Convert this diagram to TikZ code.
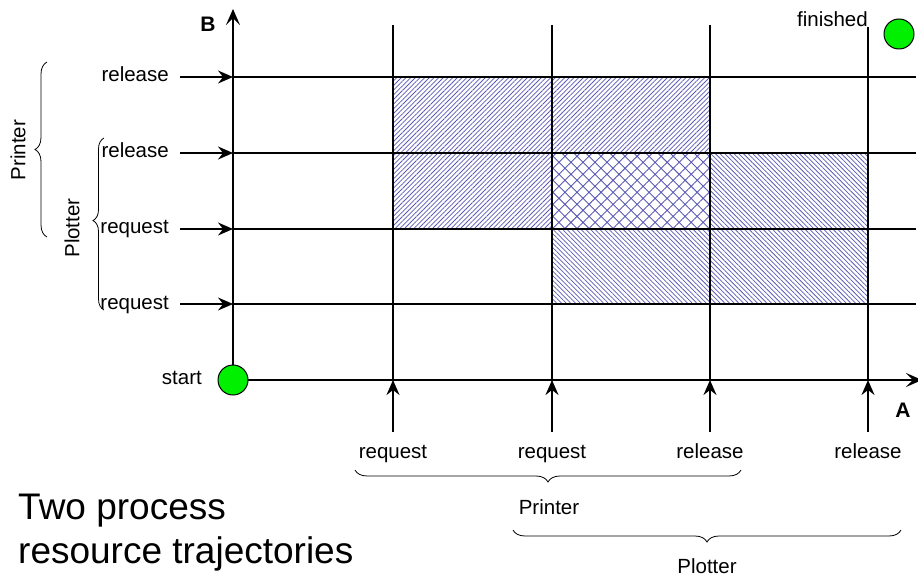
\documentclass[tikz,border=0pt]{standalone}
\usepackage{fontspec}
\setmainfont{Liberation Sans}
\usetikzlibrary{arrows.meta,patterns.meta,decorations.pathreplacing}
\definecolor{hatch}{RGB}{90,90,180}
\definecolor{dotgreen}{RGB}{0,240,0}
\begin{document}
\begin{tikzpicture}[x=1pt,y=-1pt,
  gridline/.style={line width=1.6pt},
  axisline/.style={line width=2.6pt},
  lbl/.style={font=\fontsize{20.5}{23}\selectfont, inner sep=0pt},
  bold/.style={font=\fontsize{21}{24}\selectfont\bfseries, inner sep=0pt},
  ptr/.style={line width=1.6pt, -{Stealth[length=15pt,width=13pt,inset=5pt]}},
  axtip/.style={-{Stealth[length=16pt,width=14pt,inset=7pt]}},
  hatchA/.style={pattern={Lines[angle=45,distance=3.3pt,line width=0.75pt]}, pattern color=hatch},
  hatchB/.style={pattern={Lines[angle=-45,distance=3.3pt,line width=0.75pt]}, pattern color=hatch},
  hatchX/.style={pattern={Hatch[angle=45,distance=8.5pt,line width=0.9pt]}, pattern color=hatch},
  brc/.style={decorate, decoration={brace, amplitude=12pt, aspect=0.5}, line width=0.8pt},
  dot/.style={circle, draw, line width=1pt, fill=dotgreen, minimum size=30pt, inner sep=0pt}]
\useasboundingbox (0,0) rectangle (918,577);

% hatched regions
\fill[hatchA] (393,77) rectangle (710,153);
\fill[hatchA] (393,153) rectangle (552,229);
\fill[hatchX] (552,153) rectangle (710,229);
\fill[hatchB] (710,153) rectangle (868,229);
\fill[hatchB] (552,229) rectangle (868,304);

% axis points
\coordinate (o) at (233,380);
\coordinate (btop) at (233,9);
\coordinate (aend) at (922,380);

% horizontal grid lines with pointers
\foreach \i/\y/\t in {1/77/release,2/153/release,3/229/request,4/304/request}{
  \node[lbl, anchor=base east] (l\i) at (169,\y+5) {\t};
  \coordinate (s\i) at (180,\y);
  \coordinate (a\i) at (233,\y);
  \coordinate (e\i) at (916,\y);
  \draw[gridline] (a\i) -- (e\i);
  \draw[ptr] (s\i) -- (a\i);
}

% vertical grid lines with pointers
\foreach \i/\x/\t/\top in {1/393/request/25,2/552/request/25,3/710/release/25,4/868/release/27}{
  \node[lbl, anchor=base] (b\i) at (\x,458) {\t};
  \coordinate (t\i) at (\x,\top);
  \coordinate (p\i) at (\x,380);
  \coordinate (q\i) at (\x,432);
  \draw[gridline] (t\i) -- (p\i);
  \draw[ptr] (q\i) -- (p\i);
}

% axes
\draw[axisline, axtip] (o) -- (btop);
\draw[axisline, axtip] (o) -- (aend);
\node[bold] (B) at (208,24) {B};
\node[bold] (A) at (903,410) {A};

% start / finished
\node[dot] (start) at (233,380) {};
\node[lbl, anchor=base east] (startlbl) at (202,384) {start};
\node[dot] (fin) at (899,34) {};
\node[lbl, anchor=base east] (finlbl) at (868,27) {finished};

% left braces
\draw[brc] (47,237) -- (47,62);
\node[lbl, rotate=90] (lprinter) at (18,150) {Printer};
\draw[brc, decoration={amplitude=11pt, aspect=0.52}] (104,310) -- (104,138);
\node[lbl, rotate=90] (lplotter) at (72,228) {Plotter};

% bottom braces
\draw[brc] (741,470) -- (355,470);
\node[lbl] (bprinter) at (549,507) {Printer};
\draw[brc] (901,530) -- (513,530);
\node[lbl] (bplotter) at (707,566) {Plotter};

% title
\node[anchor=base west, inner sep=0pt, font=\fontsize{37}{45}\selectfont] (title) at (18,519) {Two process};
\node[anchor=base west, inner sep=0pt, font=\fontsize{37}{45}\selectfont] (title2) at (18,563) {resource trajectories};
\end{tikzpicture}
\end{document}
